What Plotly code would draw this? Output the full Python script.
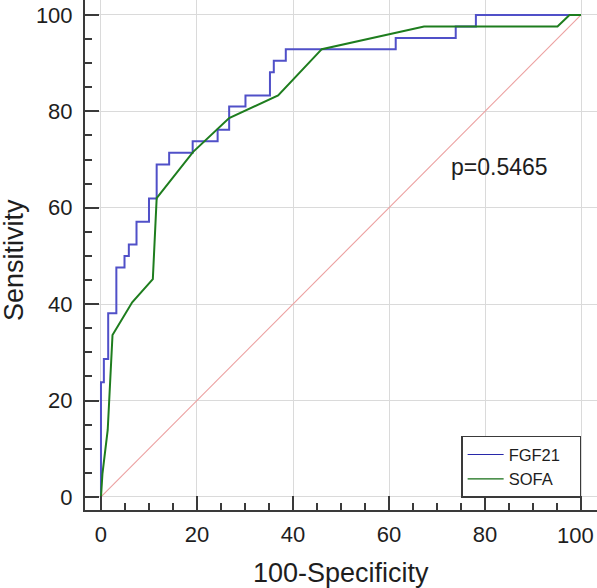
import plotly.graph_objects as go

# FGF21 empirical ROC (step curve), values in percent
fgf21_fpr = [0, 0, 0.6, 0.6, 1.5, 1.5, 3.2, 3.2, 4.9, 4.9, 5.8, 5.8, 7.4, 7.4, 10.0, 10.0,
             11.6, 11.6, 14.2, 14.2, 19.1, 19.1, 24.3, 24.3, 26.7, 26.7, 30.1, 30.1,
             35.2, 35.2, 36.0, 36.0, 38.5, 38.5, 61.4, 61.4, 73.9, 73.9, 78.1, 78.1, 100]
fgf21_tpr = [0, 23.8, 23.8, 28.6, 28.6, 38.1, 38.1, 47.6, 47.6, 50.0, 50.0, 52.4, 52.4, 57.1,
             57.1, 61.9, 61.9, 69.0, 69.0, 71.4, 71.4, 73.8, 73.8, 76.2, 76.2, 81.0, 81.0,
             83.3, 83.3, 88.1, 88.1, 90.5, 90.5, 92.9, 92.9, 95.2, 95.2, 97.6, 97.6, 100, 100]

# SOFA ROC (polyline)
sofa_fpr = [0, 0.3, 1.4, 2.4, 6.5, 10.8, 11.6, 19.2, 26.7, 36.9, 46.0, 67.3, 95.1, 97.6, 100]
sofa_tpr = [0, 4.8, 13.9, 33.6, 40.4, 45.2, 62.0, 71.6, 78.6, 83.3, 92.9, 97.6, 97.6, 100, 100]

diag = [0, 100]
tick_vals = [0, 20, 40, 60, 80, 100]
tick_text = ["0", "20", "40", "60", "80", "100"]
series_names = ["FGF21", "SOFA"]
p_text = "p=0.5465"
x_title = "100-Specificity"
y_title = "Sensitivity"

font_family = "Arial, Liberation Sans, sans-serif"
axis_col = "#3a3a3a"
text_col = "#1e1e1e"
blue = "rgb(80,80,200)"
green = "rgb(30,125,30)"

fig = go.Figure()
fig.add_trace(go.Scatter(x=diag, y=diag, mode="lines", showlegend=False,
                         line=dict(color="rgb(236,160,160)", width=1.1), hoverinfo="skip"))
fig.add_trace(go.Scatter(x=fgf21_fpr, y=fgf21_tpr, mode="lines", name=series_names[0],
                         showlegend=False, line=dict(color=blue, width=2)))
fig.add_trace(go.Scatter(x=sofa_fpr, y=sofa_tpr, mode="lines", name=series_names[1],
                         showlegend=False, line=dict(color=green, width=2)))
# legend entries (thin sample lines as in the reference)
fig.add_trace(go.Scatter(x=[None], y=[None], mode="lines", name=series_names[0] + "\u00a0\u00a0\u00a0",
                         line=dict(color="rgb(40,40,170)", width=1.2)))
fig.add_trace(go.Scatter(x=[None], y=[None], mode="lines", name=series_names[1],
                         line=dict(color="rgb(20,110,20)", width=1.2)))

fig.add_annotation(x=83.1, y=68.5, text=p_text, showarrow=False, xanchor="center",
                   yanchor="middle", font=dict(size=23, color=text_col, family=font_family))

# last x tick label, nudged left so that it stays inside the figure as in the reference
fig.add_annotation(x=tick_vals[-1], y=0, xref="x", yref="paper", text=tick_text[-1],
                   showarrow=False, xanchor="center", yanchor="top", xshift=-6, yshift=-11,
                   font=dict(size=22, color=text_col, family=font_family))

# axis titles as annotations for exact placement
fig.add_annotation(x=0.5, y=0, xref="paper", yref="paper", text=x_title, showarrow=False,
                   xanchor="center", yanchor="top", yshift=-46,
                   font=dict(size=27, color=text_col, family=font_family))
fig.add_annotation(x=0, y=0.49, xref="paper", yref="paper", text=y_title, showarrow=False,
                   textangle=-90, xanchor="center", yanchor="middle", xshift=-71,
                   font=dict(size=27, color=text_col, family=font_family))

axis_common = dict(
    showline=True, linewidth=2, linecolor=axis_col,
    ticks="inside", ticklen=14, tickwidth=2, tickcolor=axis_col,
    tickmode="array", tickvals=tick_vals,
    minor=dict(ticks="inside", ticklen=7, tickwidth=1.5, tickcolor=axis_col,
               tick0=0, dtick=5, showgrid=False),
    showgrid=True, gridcolor="#dadada", gridwidth=1,
    zeroline=False, mirror=False, automargin=False,
    ticklabeloverflow="allow",
    tickfont=dict(size=22, color=text_col, family=font_family),
)

fig.update_layout(
    width=597, height=588,
    margin=dict(l=85, r=0, t=0, b=78),
    paper_bgcolor="white", plot_bgcolor="white",
    font=dict(family=font_family, color=text_col),
    xaxis=dict(range=[-3.33, 103.33], ticklabelstandoff=4,
               ticktext=tick_text[:-1] + [""], **axis_common),
    yaxis=dict(range=[-2.7, 103.1], ticklabelstandoff=6, ticktext=tick_text, **axis_common),
    legend=dict(x=0.969, y=0.024, xanchor="right", yanchor="bottom",
                bgcolor="white", bordercolor=axis_col, borderwidth=1.5,
                font=dict(size=16.5, color=text_col, family=font_family),
                itemwidth=36, tracegroupgap=0),
    showlegend=True,
)

fig.write_html("out.html", config={"displayModeBar": False},
               post_script="document.body.style.margin='0px';")
